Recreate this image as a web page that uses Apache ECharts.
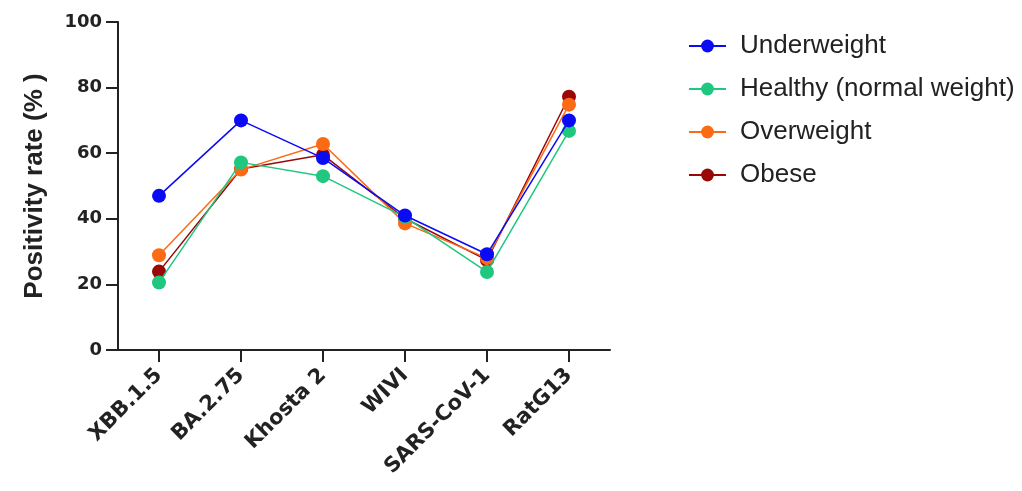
<!DOCTYPE html>
<html>
<head>
<meta charset="utf-8">
<script src="https://cdn.jsdelivr.net/npm/echarts@6/dist/echarts.min.js"></script>
<style>
html,body{margin:0;padding:0;background:#fff;}
#chart{width:1022px;height:491px;}
</style>
</head>
<body>
<div id="chart"></div>
<script>
const categories = ['XBB.1.5', 'BA.2.75', 'Khosta 2', 'WIVI', 'SARS-CoV-1', 'RatG13'];
const underweight = [47, 70, 58.5, 41, 29.2, 70];
const healthy = [20.6, 57.2, 53, 40.5, 23.8, 66.8];
const overweight = [28.9, 55, 62.8, 38.6, 28, 74.8];
const obese = [23.9, 55.2, 59.5, 40.1, 27.4, 77.2];
const yTicks = [0, 20, 40, 60, 80, 100];
const seriesNames = ['Underweight', 'Healthy (normal weight)', 'Overweight', 'Obese'];
const colors = ['#0a0af5', '#1fc77f', '#fb6a14', '#9a0707'];

const chart = echarts.init(document.getElementById('chart'));
function mk(name, data, color, z) {
  return {
    name: name, type: 'line', data: data, z: z,
    symbol: 'circle', symbolSize: 14,
    itemStyle: {color: color},
    lineStyle: {color: color, width: 1.5},
    emphasis: {disabled: true}
  };
}
chart.setOption({
  animation: false,
  backgroundColor: '#fff',
  grid: {left: 118, top: 22, right: 412, bottom: 141, containLabel: false},
  legend: {
    data: seriesNames,
    orient: 'vertical',
    left: 683, top: 28,
    itemWidth: 37, itemHeight: 16, itemGap: 17,
    textStyle: {fontFamily: 'Liberation Sans', fontSize: 26, color: '#222', padding: [0, 0, 0, 9], lineHeight: 26}
  },
  xAxis: {
    type: 'category', data: categories, boundaryGap: true,
    axisLine: {show: true, lineStyle: {color: '#222', width: 2}},
    axisTick: {show: true, alignWithLabel: true, interval: 0, length: 12, lineStyle: {color: '#222', width: 2}},
    axisLabel: {rotate: 45, margin: 22, fontFamily: 'DejaVu Sans', fontWeight: 'bold', fontSize: 21, color: '#222', interval: 0}
  },
  yAxis: {
    type: 'value', min: yTicks[0], max: yTicks[yTicks.length - 1], interval: 20,
    name: 'Positivity rate (% )', nameLocation: 'middle', nameGap: 70,
    nameTextStyle: {fontFamily: 'Liberation Sans', fontWeight: 'bold', fontSize: 26, color: '#222'},
    axisLine: {show: true, lineStyle: {color: '#222', width: 2}},
    axisTick: {show: true, length: 12, lineStyle: {color: '#222', width: 2}},
    axisLabel: {margin: 16, fontFamily: 'DejaVu Sans', fontWeight: 'bold', fontSize: 18, color: '#222'},
    splitLine: {show: false}
  },
  series: [
    mk(seriesNames[3], obese, colors[3], 2),
    mk(seriesNames[2], overweight, colors[2], 3),
    mk(seriesNames[1], healthy, colors[1], 4),
    mk(seriesNames[0], underweight, colors[0], 5)
  ]
});
</script>
</body>
</html>
